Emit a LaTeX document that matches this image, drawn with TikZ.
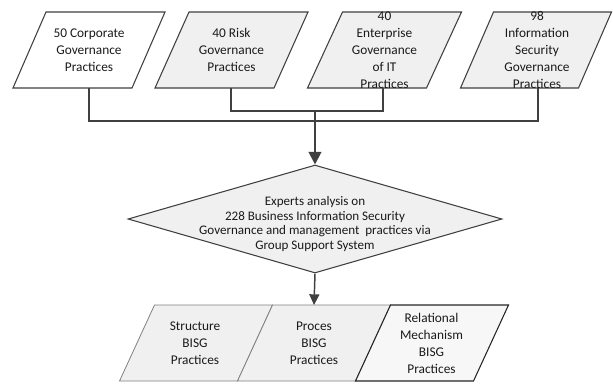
\documentclass[tikz,border=0pt]{standalone}
\usepackage{fontspec}
\setmainfont{Carlito}
\usetikzlibrary{arrows.meta,shapes.geometric}
\definecolor{shapefill}{HTML}{F0F0F0}
\definecolor{lightfill}{HTML}{F7F7F7}
\definecolor{lineclr}{HTML}{404040}
\definecolor{txtclr}{HTML}{1A1A1A}
\newcommand\mypgram[5]{%
  \path[#5] ({#1-#3+#4},{#2-38}) -- ({#1+#3+#4},{#2-38}) -- ({#1+#3-#4},{#2+38}) -- ({#1-#3-#4},{#2+38}) -- cycle;}
\begin{document}
\begin{tikzpicture}[x=0.75pt,y=-0.75pt,
  topbox/.style={draw=lineclr,line width=0.8pt,fill=shapefill},
  topboxw/.style={draw=lineclr,line width=0.8pt,fill=white},
  botbox/.style={draw=black!50,line width=0.6pt,fill=shapefill},
  botboxd/.style={draw=black!85,line width=0.8pt,fill=lightfill},
  txt/.style={align=center,inner sep=0pt,text=txtclr,font=\fontsize{10pt}{12.75pt}\selectfont},
  dtxt/.style={align=center,inner sep=0pt,text=txtclr,font=\fontsize{9.8pt}{11pt}\selectfont},
  conn/.style={draw=lineclr,line width=1.2pt},
  bigarrow/.style={draw=lineclr,line width=1.6pt,-{Triangle[width=9.5pt,length=9.5pt]}},
  smallarrow/.style={draw=lineclr,line width=1.1pt,-{Triangle[width=7.5pt,length=8pt]}}]
\useasboundingbox (0,0) rectangle (613,383);
% top parallelograms
\mypgram{89}{50}{59.5}{16.5}{topboxw}
\mypgram{231.5}{50}{59.5}{17}{topbox}
\mypgram{384.5}{50}{59.5}{17.5}{topbox}
\mypgram{536}{50}{59}{16.5}{topbox}
\node[txt] (t1) at (89,50) {50 Corporate\\Governance\\Practices};
\node[txt] (t2) at (231.5,50) {40 Risk\\Governance\\Practices};
\node[txt] (t3) at (384.5,50) {40\\Enterprise\\Governance\\of IT\\Practices};
\node[txt] (t4) at (537,50) {98\\Information\\Security\\Governance\\Practices};
\coordinate (t1b) at (89,88);
\coordinate (t2b) at (231,88);
\coordinate (t3b) at (383,88);
\coordinate (t4b) at (538,88);
\coordinate (busa) at (0,111);
\coordinate (busb) at (0,121);
% diamond
\node[diamond,draw=lineclr,line width=0.8pt,fill=shapefill,minimum width=280.5pt,minimum height=81pt,inner sep=0pt] (dia) at (315,219) {};
\node[dtxt] (dt) at (315,224) {Experts analysis on\\228 Business Information Security\\Governance and management \ practices via\\Group Support System};
% bottom parallelograms
\mypgram{196}{343}{59}{17.5}{botbox}
\mypgram{314}{343}{59}{17.5}{botbox}
\mypgram{432}{343}{59}{17.5}{botboxd}
\node[txt] (b1) at (195,343) {Structure\\BISG\\Practices};
\node[txt] (b2) at (314,343) {Proces\\BISG\\Practices};
\node[txt] (b3) at (431.5,343) {Relational\\Mechanism\\BISG\\Practices};
\coordinate (b2t) at (314,305);
% connectors
\draw[conn] (t2b) -- (t2b |- busa) -- (t3b |- busa) -- (t3b);
\draw[conn] (t1b) -- (t1b |- busb) -- (t4b |- busb) -- (t4b);
\draw[bigarrow] (dia.north |- busa) -- (dia.north);
\draw[smallarrow] (dia.south) -- (b2t);
\end{tikzpicture}
\end{document}
